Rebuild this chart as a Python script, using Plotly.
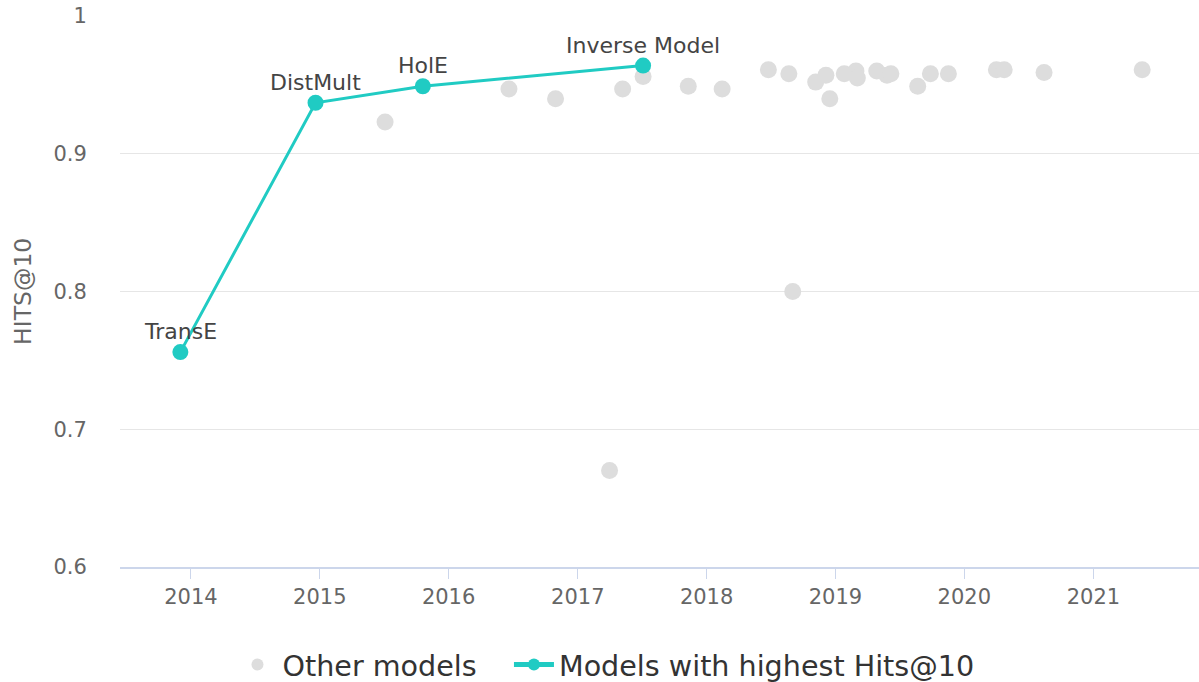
import plotly.graph_objects as go

# Models with highest Hits@10 (frontier)
best_names = ["TransE", "DistMult", "HolE", "Inverse Model"]
best_dates = ["2013-12-02", "2014-12-20", "2015-10-20", "2017-07-05"]
best_hits = [0.756, 0.937, 0.949, 0.964]

# Other models
other_dates = [
    "2015-07-05", "2016-06-20", "2016-10-30", "2017-04-01", "2017-05-08",
    "2017-07-05", "2017-11-10", "2018-02-14", "2018-06-25", "2018-08-22",
    "2018-09-02", "2018-11-06", "2018-12-05", "2018-12-16", "2019-01-26",
    "2019-02-28", "2019-03-04", "2019-04-28", "2019-05-27", "2019-06-07",
    "2019-08-22", "2019-09-27", "2019-11-17", "2020-04-01", "2020-04-23",
    "2020-08-14", "2021-05-19",
]
other_hits = [
    0.923, 0.947, 0.940, 0.670, 0.947,
    0.956, 0.949, 0.947, 0.961, 0.958,
    0.800, 0.952, 0.957, 0.940, 0.958,
    0.960, 0.955, 0.960, 0.957, 0.958,
    0.949, 0.958, 0.958, 0.961, 0.961,
    0.959, 0.961,
]

x_ticks = ["2014-01-01", "2015-01-01", "2016-01-01", "2017-01-01",
           "2018-01-01", "2019-01-01", "2020-01-01", "2021-01-01"]
x_tick_labels = ["2014", "2015", "2016", "2017", "2018", "2019", "2020", "2021"]
y_ticks = [0.6, 0.7, 0.8, 0.9, 1.0]
y_tick_labels = ["0.6", "0.7", "0.8", "0.9", "1"]
y_title = "HITS@10"

FONT = "DejaVu Sans"
TEAL = "#20cbc3"
GREY = "#dddddd"
NB = "\u00a0"

fig = go.Figure()
fig.add_trace(go.Scatter(
    x=other_dates, y=other_hits, mode="markers",
    name="Other models" + NB * 3,
    marker=dict(color=GREY, size=17, line=dict(width=0)),
    hoverinfo="x+y",
))
fig.add_trace(go.Scatter(
    x=best_dates, y=best_hits, mode="lines+markers",
    name="Models with highest Hits@10",
    line=dict(color=TEAL, width=3),
    marker=dict(color=TEAL, size=16, line=dict(width=0)),
))

for name, d, h in zip(best_names, best_dates, best_hits):
    fig.add_annotation(
        x=d, y=h, xref="x", yref="y", text=name, showarrow=False,
        yanchor="bottom", xanchor="center", yshift=6,
        font=dict(family=FONT, size=22, color="#444444"),
    )

# y-axis title
fig.add_annotation(
    x=-0.0904, y=0.5, xref="paper", yref="paper", text=y_title,
    showarrow=False, textangle=-90, xanchor="center", yanchor="middle",
    font=dict(family=FONT, size=23.5, color="#666666"),
)

fig.update_layout(
    width=1199, height=682,
    margin=dict(l=120, r=0, t=16, b=115, autoexpand=False),
    paper_bgcolor="white", plot_bgcolor="white",
    font=dict(family=FONT, size=21, color="#666666"),
    showlegend=True,
    legend=dict(
        orientation="h", xref="container", x=0.5054, xanchor="center",
        yref="container", y=0.025, yanchor="middle",
        font=dict(family=FONT, size=28.6, color="#333333"),
        itemsizing="constant", itemwidth=40, traceorder="normal",
    ),
    xaxis=dict(
        type="date", range=["2013-06-14", "2021-10-27"],
        tickvals=x_ticks, ticktext=x_tick_labels,
        showgrid=False, zeroline=False, automargin=False,
        showline=True, linecolor="#ccd6eb", linewidth=2,
        ticks="outside", ticklen=10, tickcolor="#ccd6eb", tickwidth=1,
        tickfont=dict(family=FONT, size=21, color="#666666"),
    ),
    yaxis=dict(
        range=[0.6, 1.0], tickvals=y_ticks, ticktext=y_tick_labels,
        showgrid=True, gridcolor="#e6e6e6", gridwidth=1,
        zeroline=False, showline=False, ticklabeloverflow="allow",
        automargin=False,
        ticks="outside", ticklen=28, tickcolor="rgba(0,0,0,0)",
        tickfont=dict(family=FONT, size=21, color="#666666"),
    ),
)

fig.write_html(
    "out.html",
    config={"displayModeBar": False},
    post_script="document.body.style.margin='0';",
)
